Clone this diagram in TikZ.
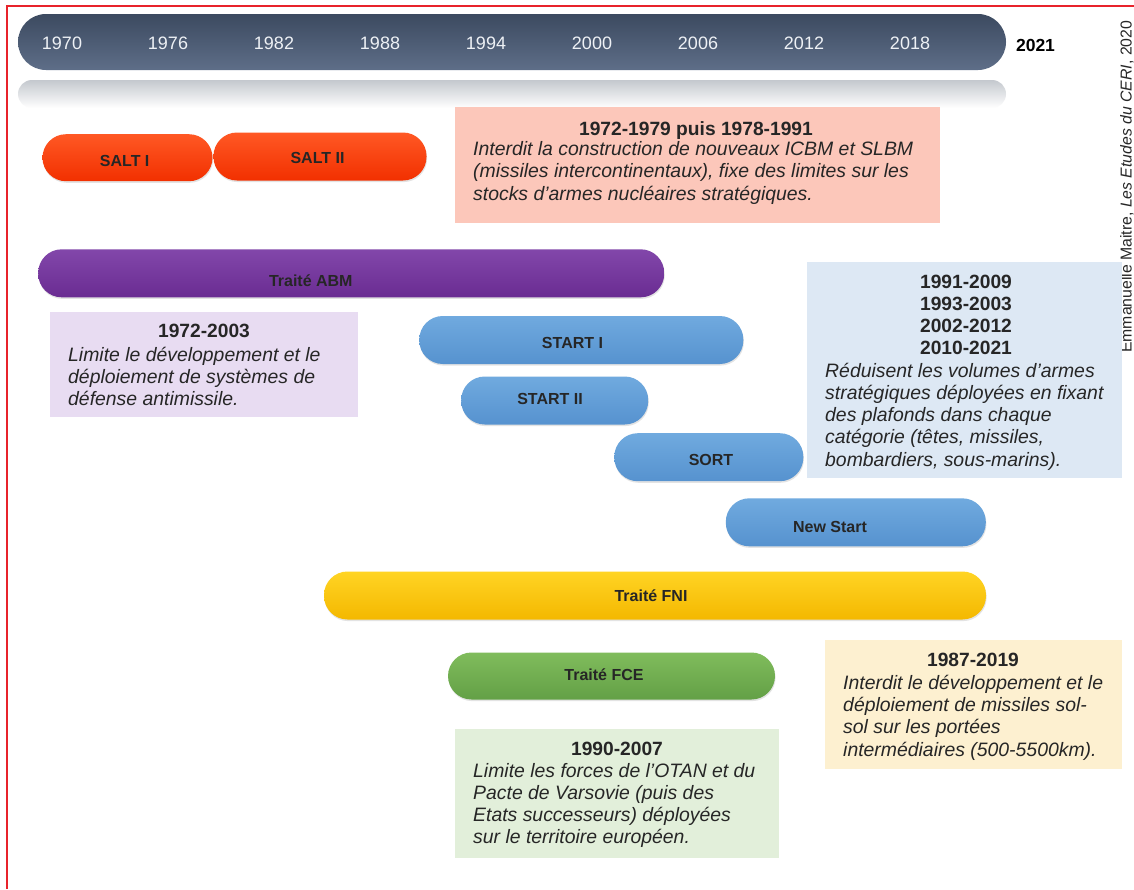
\documentclass[tikz,border=0pt]{standalone}
\usepackage{fontspec}
\setmainfont{Liberation Sans}
\usetikzlibrary{shadows}
\definecolor{redframe}{HTML}{E8232B}
\definecolor{tlTop}{HTML}{3C4A60}
\definecolor{tlBot}{HTML}{5E6E88}
\definecolor{reflTop}{HTML}{C4C8CE}
\definecolor{yearTxt}{HTML}{EEF1F5}
\definecolor{txt}{HTML}{262626}
\definecolor{saltTop}{HTML}{FF5824}
\definecolor{saltBot}{HTML}{F23000}
\definecolor{abmTop}{HTML}{8247AA}
\definecolor{abmBot}{HTML}{6A2C92}
\definecolor{blueTop}{HTML}{70AADF}
\definecolor{blueBot}{HTML}{5692CF}
\definecolor{fniTop}{HTML}{FFD424}
\definecolor{fniBot}{HTML}{F4B800}
\definecolor{fceTop}{HTML}{80BC5C}
\definecolor{fceBot}{HTML}{63A046}
\definecolor{pinkBox}{HTML}{FCC7BA}
\definecolor{purpleBox}{HTML}{E8DCF2}
\definecolor{blueBox}{HTML}{DDE8F4}
\definecolor{yellowBox}{HTML}{FDF0D0}
\definecolor{greenBox}{HTML}{E2EFDA}
\begin{document}
\begin{tikzpicture}[x=1pt,y=-1pt,
  pill/.style={rectangle, rounded corners=23.5pt, inner sep=0pt, minimum height=48pt,
    drop shadow={shadow xshift=0.6pt, shadow yshift=-1.6pt, opacity=0.22}},
  salt/.style={pill, top color=saltTop, bottom color=saltBot},
  abm/.style={pill, top color=abmTop, bottom color=abmBot},
  start/.style={pill, top color=blueTop, bottom color=blueBot},
  fni/.style={pill, top color=fniTop, bottom color=fniBot},
  fce/.style={pill, top color=fceTop, bottom color=fceBot},
  pilltext/.style={font=\fontsize{16}{19}\selectfont\bfseries, text=txt, inner sep=0pt, anchor=base},
  infobox/.style={rectangle, inner sep=0pt, anchor=north west, draw=none},
  boxtitle/.style={font=\fontsize{19.2}{22.3}\selectfont\bfseries, text=txt, inner sep=0pt, anchor=base},
  boxbody/.style={font=\fontsize{19.4}{22.3}\selectfont\itshape, text=txt, inner sep=0pt, anchor=base west},
  yearlab/.style={font=\fontsize{18}{20}\selectfont, text=yearTxt, inner sep=0pt, anchor=base},
]
\useasboundingbox (0,0) rectangle (1134,889);
\fill[white] (0,0) rectangle (1134,889);
% frame
\draw[draw=redframe, line width=2pt] (6.7,889) -- (6.7,5.8) -- (1134,5.8);

% timeline
\node[rectangle, rounded corners=28pt, minimum width=988pt, minimum height=56pt, inner sep=0pt,
  top color=tlTop, bottom color=tlBot] (timeline) at (512,42) {};
\node[rectangle, rounded corners=14pt, minimum width=988pt, minimum height=28pt, inner sep=0pt,
  top color=reflTop, bottom color=white] (reflection) at (512,94) {};
\foreach \yr [count=\i from 0] in {1970,1976,1982,1988,1994,2000,2006,2012,2018}
  \node[yearlab] (y\yr) at (62+106*\i,49.5) {\yr};
\node[font=\fontsize{17.5}{20}\selectfont\bfseries, text=black, inner sep=0pt, anchor=base] (y2021) at (1035.5,51) {2021};

% credit
\node[rotate=90, anchor=base west, font=\fontsize{15.8}{18}\selectfont, text=txt, inner sep=0pt] (credit)
  at (1131.5,353) {Emmanuelle Maitre, \textit{Les Etudes du CERI}, 2020};

% info boxes
\node[infobox, fill=pinkBox, minimum width=485pt, minimum height=116pt] (saltbox) at (455,107) {};
\node[infobox, fill=purpleBox, minimum width=308pt, minimum height=105pt] (abmbox) at (50,312) {};
\node[infobox, fill=blueBox, minimum width=315pt, minimum height=216pt] (startbox) at (807,262) {};
\node[infobox, fill=yellowBox, minimum width=297pt, minimum height=129pt] (fnibox) at (825,640) {};
\node[infobox, fill=greenBox, minimum width=324pt, minimum height=129pt] (fcebox) at (455,729) {};

% pills
\node[salt, minimum width=170pt, minimum height=47pt] (salt1) at (127.5,157.7) {};
\node[pilltext] (salt1l) at (124.7,166) {SALT I};
\node[salt, minimum width=213pt] (salt2) at (320,156.5) {};
\node[pilltext] (salt2l) at (317.5,163.3) {SALT II};
\node[abm, minimum width=626pt] (abm) at (351.2,273.3) {};
\node[pilltext] (abml) at (310.8,286.7) {Traité ABM};
\node[start, minimum width=324pt] (start1) at (581.3,340) {};
\node[pilltext] (start1l) at (572.5,348.7) {START I};
\node[start, minimum width=187pt] (start2) at (554.7,400.5) {};
\node[pilltext] (start2l) at (550,404.3) {START II};
\node[start, minimum width=189pt] (sort) at (708.8,457.2) {};
\node[pilltext] (sortl) at (711,465.7) {SORT};
\node[start, minimum width=260pt] (newstart) at (855.8,522.3) {};
\node[pilltext] (newstartl) at (830,532) {New Start};
\node[fni, minimum width=662pt] (fni) at (655,595.5) {};
\node[pilltext] (fnil) at (651,601.7) {Traité FNI};
\node[fce, minimum width=327pt, minimum height=47pt] (fce) at (611.5,676) {};
\node[pilltext] (fcel) at (604,680.5) {Traité FCE};

% texts: SALT
\node[boxtitle] (saltt) at (696,135) {1972-1979 puis 1978-1991};
\node[boxbody] (saltb) at (473,155.5) {\begin{tabular}[t]{@{}l@{}}Interdit la construction de nouveaux ICBM et SLBM\\(missiles intercontinentaux), fixe des limites sur les\\stocks d’armes nucléaires stratégiques.\end{tabular}};
% ABM
\node[boxtitle] (abmt) at (204,337) {1972-2003};
\node[boxbody] (abmb) at (68,361) {\begin{tabular}[t]{@{}l@{}}Limite le développement et le\\déploiement de systèmes de\\défense antimissile.\end{tabular}};
% START
\node[boxtitle] (startt) at (966,288) {\begin{tabular}[t]{@{}c@{}}1991-2009\\1993-2003\\2002-2012\\2010-2021\end{tabular}};
\node[boxbody] (startb) at (825,377) {\begin{tabular}[t]{@{}l@{}}Réduisent les volumes d’armes\\stratégiques déployées en fixant\\des plafonds dans chaque\\catégorie (têtes, missiles,\\bombardiers, sous-marins).\end{tabular}};
% FNI
\node[boxtitle] (fnit) at (973,666) {1987-2019};
\node[boxbody] (fnib) at (843,689.3) {\begin{tabular}[t]{@{}l@{}}Interdit le développement et le\\déploiement de missiles sol-\\sol sur les portées\\intermédiaires (500-5500km).\end{tabular}};
% FCE
\node[boxtitle] (fcet) at (617,755) {1990-2007};
\node[boxbody] (fceb) at (473,777) {\begin{tabular}[t]{@{}l@{}}Limite les forces de l’OTAN et du\\Pacte de Varsovie (puis des\\Etats successeurs) déployées\\sur le territoire européen.\end{tabular}};
\end{tikzpicture}
\end{document}
